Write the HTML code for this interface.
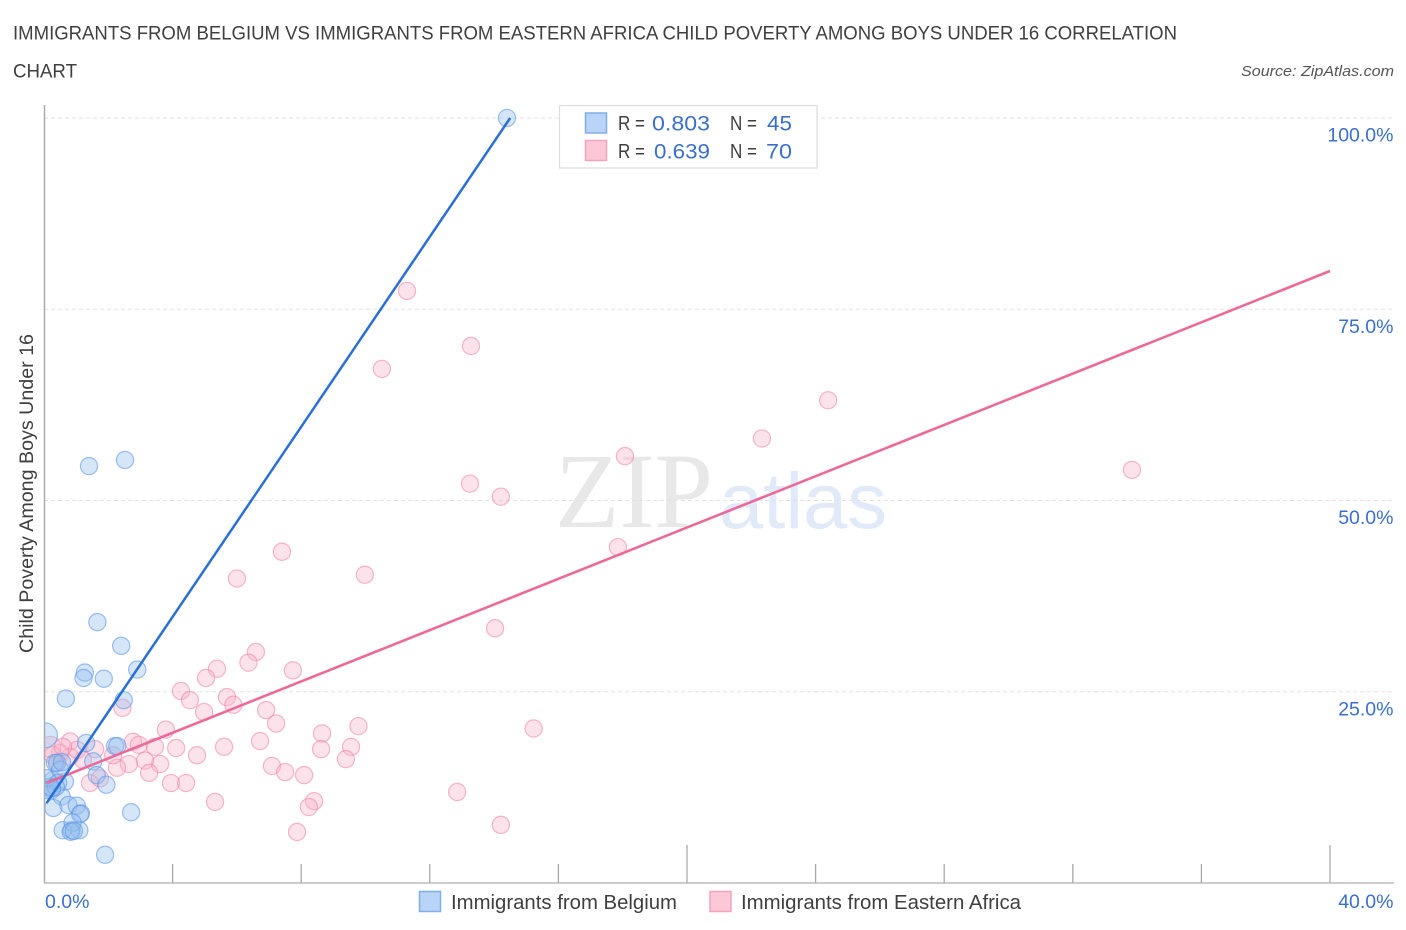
<!DOCTYPE html>
<html lang="en">
<head>
<meta charset="utf-8">
<title>Immigrants from Belgium vs Immigrants from Eastern Africa Child Poverty Correlation Chart</title>
<style>
html,body{margin:0;padding:0;background:#fff;}
svg{display:block;font-family:"Liberation Sans",sans-serif;}
</style>
</head>
<body>
<svg id="chart" width="1406" height="930" viewBox="0 0 1406 930" xmlns="http://www.w3.org/2000/svg">
  <defs>
    <clipPath id="plot-clip"><rect x="45" y="100" width="1349" height="783"/></clipPath>
  </defs>
  <rect x="0" y="0" width="1406" height="930" fill="#ffffff"/>
  <text x="13" y="39.5" font-size="19" fill="#3f3f3f" textLength="1164" lengthAdjust="spacingAndGlyphs">IMMIGRANTS FROM BELGIUM VS IMMIGRANTS FROM EASTERN AFRICA CHILD POVERTY AMONG BOYS UNDER 16 CORRELATION</text>
  <text x="13" y="77.5" font-size="19" fill="#3f3f3f" textLength="64" lengthAdjust="spacingAndGlyphs">CHART</text>
  <text x="1241" y="76" font-size="15" font-style="italic" fill="#555555" textLength="153" lengthAdjust="spacingAndGlyphs">Source: ZipAtlas.com</text>

  <g>
    <text x="555" y="527" font-family="'Liberation Serif',serif" font-size="107" fill="#e8e8e8" textLength="158" lengthAdjust="spacingAndGlyphs">ZIP</text>
    <text x="719" y="528" font-size="79" fill="#e1eaf9" textLength="168" lengthAdjust="spacingAndGlyphs">atlas</text>
  </g>

  <g id="grid"></g>
  <g id="axes"></g>
  <g id="points-a" clip-path="url(#plot-clip)"></g>
  <g id="points-b" clip-path="url(#plot-clip)"></g>
  <g id="lines"></g>
  <g id="labels"></g>

  <text transform="translate(33,653) rotate(-90)" x="0" y="0" font-size="19" fill="#3f3f3f" textLength="319" lengthAdjust="spacingAndGlyphs">Child Poverty Among Boys Under 16</text>

  <g>
    <rect x="559.5" y="105.5" width="257.5" height="62.5" fill="#ffffff" stroke="#dddddd" stroke-width="1.2"/>
    <rect x="585.5" y="113" width="21" height="20" fill="#b9d4f7" stroke="#80aee8" stroke-width="1.5"/>
    <text x="618" y="130" font-size="20" fill="#3f3f3f" textLength="27" lengthAdjust="spacingAndGlyphs">R =</text>
    <text x="652" y="130.5" font-size="21" fill="#3a70cc" textLength="58" lengthAdjust="spacingAndGlyphs">0.803</text>
    <text x="730" y="130" font-size="20" fill="#3f3f3f" textLength="27" lengthAdjust="spacingAndGlyphs">N =</text>
    <text x="767" y="130.5" font-size="21" fill="#3a70cc" textLength="25" lengthAdjust="spacingAndGlyphs">45</text>
    <rect x="585.5" y="140.5" width="21" height="20" fill="#fcc8d8" stroke="#f3a3bd" stroke-width="1.5"/>
    <text x="618" y="158" font-size="20" fill="#3f3f3f" textLength="27" lengthAdjust="spacingAndGlyphs">R =</text>
    <text x="654" y="158.5" font-size="21" fill="#3a70cc" textLength="56" lengthAdjust="spacingAndGlyphs">0.639</text>
    <text x="730" y="158" font-size="20" fill="#3f3f3f" textLength="27" lengthAdjust="spacingAndGlyphs">N =</text>
    <text x="766" y="158.5" font-size="21" fill="#3a70cc" textLength="26" lengthAdjust="spacingAndGlyphs">70</text>
  </g>

  <g>
    <rect x="419.5" y="891.5" width="21" height="20" fill="#b9d4f7" stroke="#80aee8" stroke-width="1.5"/>
    <text x="451" y="909" font-size="20" fill="#3f3f3f" textLength="226" lengthAdjust="spacingAndGlyphs">Immigrants from Belgium</text>
    <rect x="710" y="891.5" width="21" height="20" fill="#fcc8d8" stroke="#f3a3bd" stroke-width="1.5"/>
    <text x="741" y="909" font-size="20" fill="#3f3f3f" textLength="280" lengthAdjust="spacingAndGlyphs">Immigrants from Eastern Africa</text>
  </g>
</svg>
<script>
const belgiumX = [14.40,2.52,1.40,1.66,2.40,1.27,1.23,1.86,2.90,0.68,2.48,0.03,1.31,2.21,2.28,1.53,0.41,0.34,1.64,1.94,0.65,0.28,0.19,0.24,0.08,0.55,0.29,0.76,1.02,1.15,1.12,2.71,0.58,0.86,1.10,0.89,0.83,0.93,1.90,0.09,0.50,0.44,0.37,0.25,0.56];
const belgiumY = [100,55.3,54.5,34.1,31.0,27.5,26.8,26.7,27.9,24.1,23.9,19.3,18.3,17.9,17.9,15.9,15.7,15.7,14.1,12.85,13.25,13.45,12.6,12.15,12.15,11.3,9.8,10.2,10.1,9.1,9.0,9.25,6.9,6.9,6.9,7.9,6.7,6.8,3.7,13.7,14.8,13.1,12.55,12.4,15.8];
const africaX = [11.29,13.28,10.51,24.39,22.33,18.07,33.84,13.25,14.21,17.85,7.40,6.00,9.98,14.03,6.59,6.36,5.38,7.74,5.04,4.26,4.54,5.69,5.89,2.44,4.98,6.91,7.22,3.79,9.78,15.23,8.65,6.72,2.77,4.11,4.76,5.60,3.45,2.95,1.59,0.81,7.09,7.50,8.09,3.61,3.14,2.64,2.27,2.15,3.27,3.95,4.42,5.32,1.43,1.74,1.21,0.81,0.50,0.28,0.20,1.03,0.59,0.40,7.87,8.62,9.55,9.39,8.40,8.24,12.85,14.21];
const africaY = [77.4,70.2,67.2,63.1,58.1,55.8,54.0,52.2,50.5,43.9,43.3,39.8,40.3,33.3,30.2,28.8,28.0,27.8,26.8,25.1,23.9,24.3,23.3,22.9,22.35,22.6,20.85,20.05,20.5,20.2,19.55,18.55,18.47,17.65,16.7,17.8,17.8,18.05,17.5,18.5,15.3,14.5,14.1,15.55,16.0,15.55,15.07,16.7,14.4,13.07,13.07,10.6,13.07,13.7,16.1,16.5,17.0,16.7,17.8,17.4,17.8,15.7,6.67,17.5,17.8,16.2,10.7,9.93,11.9,7.6];
const belgiumLargePoint = 11;
const africaLargePoint = 58;
const belgiumTrendX = [0.08,14.5];
const belgiumTrendY = [10.45,100];
const africaTrendX = [0.08,40];
const africaTrendY = [13.07,80];
const yTicks = [25,50,75,100];
const yTickLabels = ['25.0%','50.0%','75.0%','100.0%'];
const xTicks = [0,4,8,12,16,20,24,28,32,36,40];
const xMajorTicks = [20,40];
const xEndLabels = ['0.0%','40.0%'];

const NS = 'http://www.w3.org/2000/svg';
function xScale(v){ return 44 + v * 32.15; }
function yScale(v){ return 883 - v * 7.65; }
function make(tag, attrs, parent){
  const el = document.createElementNS(NS, tag);
  Object.keys(attrs).forEach(function(k){ el.setAttribute(k, attrs[k]); });
  parent.appendChild(el);
  return el;
}

const grid = document.getElementById('grid');
const axes = document.getElementById('axes');
const labels = document.getElementById('labels');
const lines = document.getElementById('lines');

yTicks.forEach(function(t, i){
  const g = make('line', {x1:44, x2:1394, y1:yScale(t), y2:yScale(t), stroke:'#e2e2e2', 'stroke-width':1, 'stroke-dasharray':'4 3'}, grid);
  
  
  const l = make('text', {x:1393.5, y:yScale(t) + 23.5, 'text-anchor':'end', 'font-size':19.5, fill:'#3a70cc'}, labels);
  
  
  l.textContent = yTickLabels[i];
});

const yAxis = make('line', {x1:44.5, x2:44.5, y1:105, y2:883, stroke:'#aaaaaa', 'stroke-width':1.5}, axes);


const xAxis = make('line', {x1:44, x2:1394, y1:883, y2:883, stroke:'#bbbbbb', 'stroke-width':1.5}, axes);



xTicks.forEach(function(t){
  if (t === 0) return;
  const len = xMajorTicks.indexOf(t) >= 0 ? 38 : 19;
  const k = make('line', {x1:xScale(t), x2:xScale(t), y1:883 - len, y2:883, stroke:'#aaaaaa', 'stroke-width':1.3}, axes);
  
  
});

const xMin = make('text', {x:xScale(0) + 1, y:908, 'font-size':19.5, fill:'#3a70cc'}, labels);


xMin.textContent = xEndLabels[0];
const xMax = make('text', {x:1393.5, y:908, 'text-anchor':'end', 'font-size':19.5, fill:'#3a70cc'}, labels);


xMax.textContent = xEndLabels[1];

const groupB = document.getElementById('points-b');
africaX.forEach(function(v, i){
  const c = make('circle', {cx:xScale(v), cy:yScale(africaY[i]), r:i === africaLargePoint ? 10.5 : 8.6, fill:'#f8b4ca', 'fill-opacity':0.38, stroke:'#ec7fa5', 'stroke-opacity':0.55, 'stroke-width':1.2}, groupB);
  
  
});

const groupA = document.getElementById('points-a');
groupA.parentNode.insertBefore(groupB, groupA);
belgiumX.forEach(function(v, i){
  const c = make('circle', {cx:xScale(v), cy:yScale(belgiumY[i]), r:i === belgiumLargePoint ? 12.5 : 8.6, fill:'#94bdf0', 'fill-opacity':0.38, stroke:'#5f97e2', 'stroke-opacity':0.6, 'stroke-width':1.2}, groupA);
  
  
});

const trendB = make('line', {x1:xScale(africaTrendX[0]), y1:yScale(africaTrendY[0]), x2:xScale(africaTrendX[1]), y2:yScale(africaTrendY[1]), stroke:'#ec6a9a', 'stroke-width':2.6}, lines);


const trendA = make('line', {x1:xScale(belgiumTrendX[0]), y1:yScale(belgiumTrendY[0]), x2:xScale(belgiumTrendX[1]), y2:yScale(belgiumTrendY[1]), stroke:'#2a6fd6', 'stroke-width':2.5}, lines);


</script>
</body>
</html>
